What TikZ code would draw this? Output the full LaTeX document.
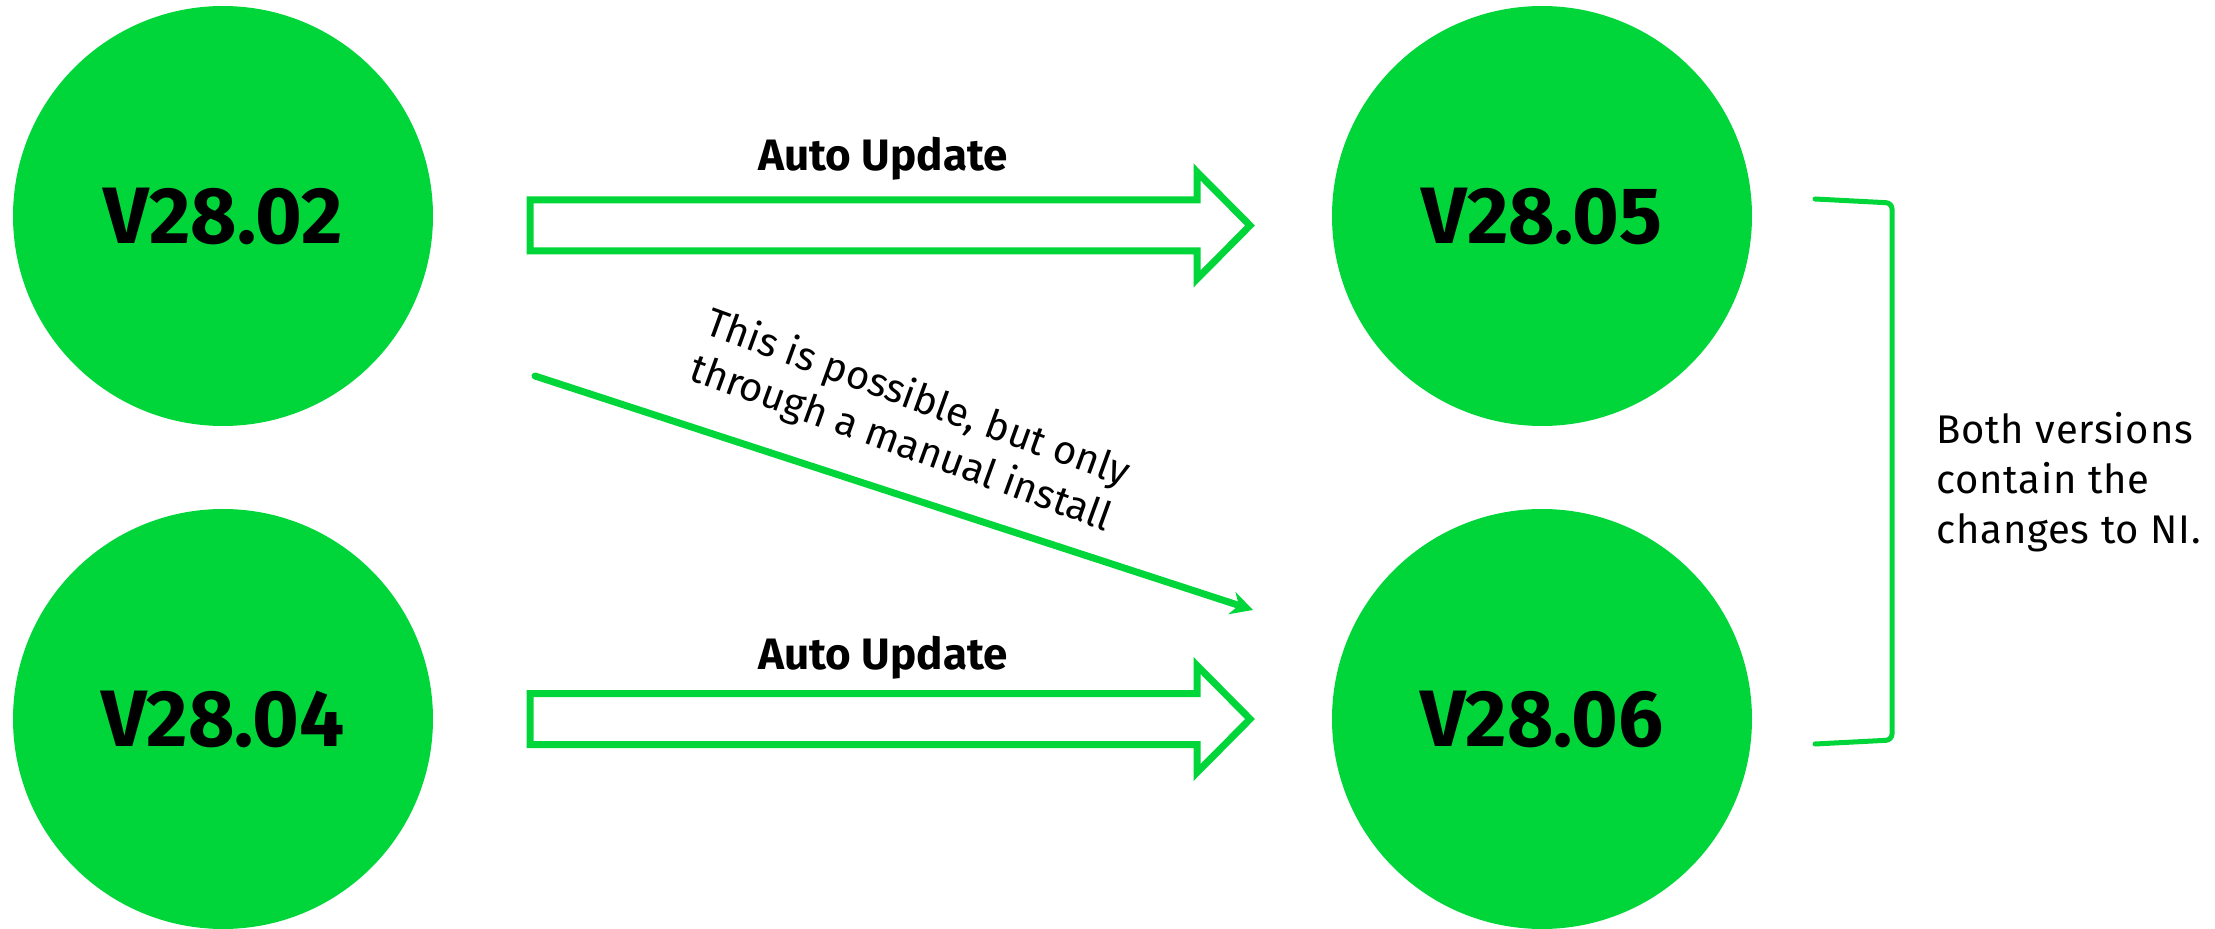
\documentclass[tikz,border=0pt]{standalone}
\usepackage{fontspec}
\setmainfont{Fira Sans}
\newfontfamily\notefont{Fira Sans}[LetterSpace=2]
\usepackage{tikz}
\usetikzlibrary{arrows.meta}
\usetikzlibrary{matrix}
\definecolor{vgreen}{RGB}{0, 214, 57}

\tikzset{
  vnode/.style={circle,fill=vgreen,minimum size=210pt,inner sep=0pt,outer sep=0pt,
    font=\bfseries\fontsize{40}{42}\selectfont},
  hollowarrow/.style={draw=vgreen,line width=3.5pt,fill=white,line join=miter},
  updlabel/.style={anchor=base,font=\bfseries\fontsize{22}{24}\selectfont},
}

\begin{document}
\begin{tikzpicture}[x=0.5pt,y=-0.5pt]
  \useasboundingbox (0,0) rectangle (2215,929);
  \matrix (m) [matrix of nodes,row sep=41.5pt,column sep=449.5pt,nodes={vnode}] at (882.5,467.5)
  {
     V28.02 & V28.05 \\
     V28.04 & V28.06 \\};
  % auto updates
  \coordinate (tailA) at (530,225.5);
  \coordinate (tailB) at (530,719);
  \draw[hollowarrow] (tailA) ++(0,-25.5) -- ++(667,0) -- ++(0,-28) -- ++(53,53.5)
    -- ++(-53,53.5) -- ++(0,-28) -- ++(-667,0) -- cycle;
  \draw[hollowarrow] (tailB) ++(0,-25.5) -- ++(667,0) -- ++(0,-28) -- ++(53,53.5)
    -- ++(-53,53.5) -- ++(0,-28) -- ++(-667,0) -- cycle;
  \node[updlabel] (updA) at (883,171) {Auto Update};
  \node[updlabel] (updB) at (883,669) {Auto Update};
  % manual install
  \coordinate (man0) at (535,376);
  \coordinate (man1) at (1253,610);
  \draw[-{Stealth[length=11pt,width=11.5pt]},vgreen,line width=3.5pt,line cap=round]
    (man0) -- (man1);
  \node[rotate=-20,align=center,font=\fontsize{20}{24}\selectfont] (manual) at (909,422)
    {This is possible, but only\\through a manual install};
  % bracket
  \coordinate (br0) at (1815,199);
  \coordinate (br1) at (1815,744);
  \draw[vgreen,line width=2.5pt,line cap=round,rounded corners=3pt]
    (br0) -- (1892,203) -- (1892,740) -- (br1);
  \node[anchor=north west,align=left,inner sep=0pt,font=\notefont\fontsize{20}{25}\selectfont] (note) at (1936,412)
    {Both versions\\contain the\\changes to NI.};
\end{tikzpicture}
\end{document}
